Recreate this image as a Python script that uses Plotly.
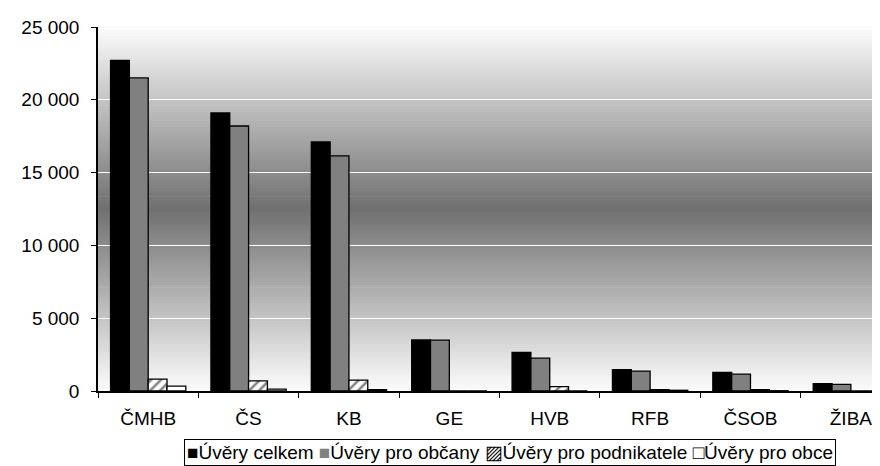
import plotly.graph_objects as go

categories = ["ČMHB", "ČS", "KB", "GE", "HVB", "RFB", "ČSOB", "ŽIBA"]
uvery_celkem = [22700, 19100, 17100, 3510, 2650, 1460, 1280, 500]
uvery_obcany = [21500, 18200, 16150, 3500, 2260, 1370, 1160, 460]
uvery_podnikatele = [820, 700, 750, 0, 300, 100, 100, 0]
uvery_obce = [340, 130, 100, 0, 0, 50, 20, 0]
series_names = ["Úvěry celkem", "Úvěry pro občany", "Úvěry pro podnikatele", "Úvěry pro obce"]
y_ticks = [0, 5000, 10000, 15000, 20000, 25000]

fig = go.Figure()
line = dict(color="black", width=1.3)
fig.add_bar(x=categories, y=uvery_celkem, name=series_names[0],
            marker=dict(color="black", line=line))
fig.add_bar(x=categories, y=uvery_obcany, name=series_names[1],
            marker=dict(color="#808080", line=line))
fig.add_bar(x=categories, y=uvery_podnikatele, name=series_names[2],
            marker=dict(color="white", line=line,
                        pattern=dict(shape="/", fgcolor="black", bgcolor="white",
                                     size=7, solidity=0.35)))
fig.add_bar(x=categories, y=uvery_obce, name=series_names[3],
            marker=dict(color="white", line=line))

# vertical double gradient background (white -> gray -> white)
n = 120
top_c, mid_c = 252, 112
shapes = []
for i in range(n):
    t0 = i / n
    t1 = (i + 1) / n
    tc = (t0 + t1) / 2
    d = abs(tc - 0.5) / 0.5
    v = int(round(mid_c + (top_c - mid_c) * d))
    shapes.append(dict(type="rect", xref="x domain", yref="y domain",
                       x0=0, x1=1, y0=t0, y1=t1 + 0.002, layer="below",
                       fillcolor=f"rgb({v},{v},{v})", line=dict(width=0)))
fig.update_layout(shapes=shapes)

FS = 19
font = dict(family="Liberation Sans, Arial, sans-serif", size=FS, color="black")

# legend drawn as a single boxed text line
symbols = [
    "<span style='color:black'>■</span>",
    "<span style='color:#808080'>■</span>",
    "<span style='color:black'>▨</span>",
    "<span style='color:black'>□</span>",
]
legend_text = " ".join(s + n_ for s, n_ in zip(symbols, series_names))
fig.add_annotation(text=legend_text, xref="paper", yref="paper",
                   x=(502 - 90) / 790, y=(383 - 431) / 364,
                   xanchor="center", yanchor="top", showarrow=False,
                   font=font, bordercolor="black", borderwidth=1, borderpad=2,
                   bgcolor="white")

fig.update_layout(
    width=880, height=466,
    margin=dict(l=90, r=0, t=19, b=83),
    paper_bgcolor="white", plot_bgcolor="rgba(0,0,0,0)",
    barmode="group", bargap=0.25, bargroupgap=0,
    separators=", ",
    font=font,
    showlegend=False,
    xaxis=dict(range=[-0.5, 7.37], showline=True, linecolor="black", linewidth=1.5,
               ticks="outside", ticklen=5, tickcolor="black", tickson="boundaries",
               showgrid=False, tickfont=font, ticklabelstandoff=9),
    yaxis=dict(range=[0, 25000], tickvals=y_ticks, tickformat=",d",
               showline=True, linecolor="black", linewidth=1.5,
               ticks="outside", ticklen=5, tickcolor="black",
               showgrid=True, gridcolor="white", gridwidth=1,
               zeroline=False, tickfont=font, ticklabelstandoff=8),
)

fig.write_html("out.html")
